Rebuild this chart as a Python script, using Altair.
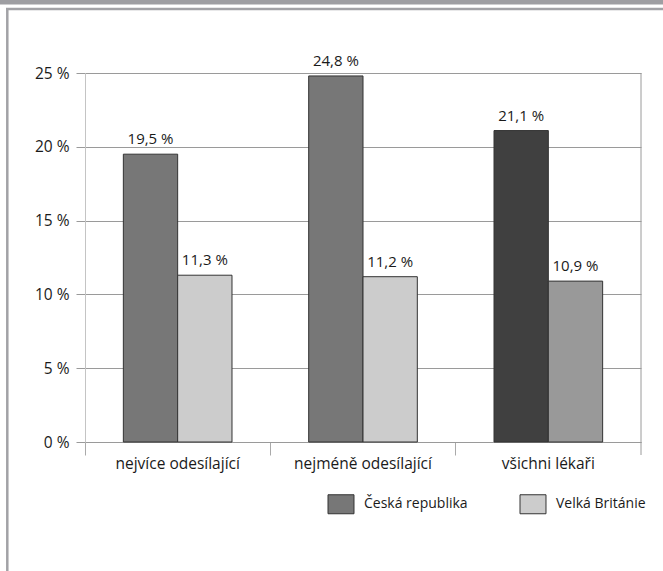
import altair as alt
import pandas as pd

# Share of referrals (%) by doctor group, Czech Republic vs. United Kingdom
groups = ["nejvíce odesílající", "nejméně odesílající", "všichni lékaři"]
series = ["Česká republika", "Velká Británie"]
cz_values = [19.5, 24.8, 21.1]
uk_values = [11.3, 11.2, 10.9]
y_ticks = [0, 5, 10, 15, 20, 25]

rows = []
for g, cz, uk in zip(groups, cz_values, uk_values):
    rows.append({"group": g, "series": series[0], "value": cz})
    rows.append({"group": g, "series": series[1], "value": uk})
df = pd.DataFrame(rows)

W, H = 556, 369
PAD = {"left": 85, "top": 73, "right": 22, "bottom": 129}
FONT = "Open Sans"
TEXT = "#1a1a1a"
GRID = "#9a9a9a"
FRAME = "#a2a2a6"

x_enc = alt.X(
    "group:N",
    sort=groups,
    scale=alt.Scale(paddingInner=0, paddingOuter=0),
    axis=alt.Axis(
        title=None, labelAngle=0, bandPosition=0, tickSize=13, tickColor="#aaaaaa",
        domainColor=GRID, labelPadding=1, labelFont=FONT, labelFontSize=15.5,
        labelColor=TEXT, labelLimit=300,
    ),
)
xoff_enc = alt.XOffset(
    "series:N", sort=series, scale=alt.Scale(paddingInner=0, paddingOuter=0.706)
)
y_enc = alt.Y(
    "value:Q",
    scale=alt.Scale(domain=[0, 25], nice=False),
    axis=alt.Axis(
        title=None, values=y_ticks, labelExpr="datum.value + ' %'", grid=True,
        gridColor=GRID, tickColor=GRID, tickSize=9, domainColor="#c4c4c4",
        labelPadding=7, labelFont=FONT, labelFontSize=15.5, labelColor=TEXT,
    ),
)

base = alt.Chart(df)

bars_main = base.transform_filter(
    alt.datum.group != groups[2]
).mark_bar(stroke="#333333", strokeWidth=1).encode(
    x=x_enc,
    xOffset=xoff_enc,
    y=y_enc,
    color=alt.Color(
        "series:N",
        sort=series,
        scale=alt.Scale(domain=series, range=["#777777", "#cccccc"]),
        legend=alt.Legend(
            title=None, orient="none", legendX=246, legendY=421, direction="horizontal",
            symbolType="M-1.368,-1H1.368V1H-1.368Z", symbolSize=361,
            symbolStrokeColor="#333333", symbolStrokeWidth=1, labelOffset=13,
            columnPadding=50, labelFont=FONT, labelFontSize=14, labelColor=TEXT,
        ),
    ),
)

bars_all = base.transform_filter(
    alt.datum.group == groups[2]
).mark_bar(stroke="#333333", strokeWidth=1).encode(
    x=x_enc,
    xOffset=xoff_enc,
    y=y_enc,
    color=alt.Color(
        "series:N",
        sort=series,
        scale=alt.Scale(domain=series, range=["#404040", "#999999"]),
        legend=None,
    ),
)

labels = base.transform_calculate(
    label="replace(format(datum.value, '.1f'), '.', ',') + ' %'"
).mark_text(
    baseline="bottom", dy=-7, font=FONT, fontSize=15, color=TEXT
).encode(
    x=x_enc,
    xOffset=xoff_enc,
    y=y_enc,
    text="label:N",
)

deco = alt.Chart(alt.Data(values=[{}]))

# right edge of the plot frame, running down to the category ticks
right_edge = deco.mark_rule(color=GRID, strokeWidth=1).encode(
    x=alt.value(W), y=alt.value(0), y2=alt.value(H + 13)
)

# page frame: top band, top rule and left rule
top_band = deco.mark_rect(color="#9e9ea2").encode(
    x=alt.value(-PAD["left"]), x2=alt.value(W + PAD["right"]),
    y=alt.value(-PAD["top"]), y2=alt.value(-PAD["top"] + 4.5),
)
frame_top = deco.mark_rule(color=FRAME, strokeWidth=2.5).encode(
    x=alt.value(-PAD["left"] + 6), x2=alt.value(W + PAD["right"]),
    y=alt.value(-PAD["top"] + 9),
)
frame_left = deco.mark_rule(color=FRAME, strokeWidth=2.5).encode(
    x=alt.value(-PAD["left"] + 7.3), y=alt.value(-PAD["top"] + 8),
    y2=alt.value(H + PAD["bottom"]),
)

chart = alt.layer(
    top_band, frame_top, frame_left, bars_main, bars_all, labels, right_edge
).resolve_scale(
    color="independent"
).properties(
    width=W, height=H, padding=PAD,
    autosize=alt.AutoSizeParams(type="none"),
    background="white",
).configure_view(stroke=None)

chart.save("out.html", embed_options={"renderer": "svg", "actions": False})
